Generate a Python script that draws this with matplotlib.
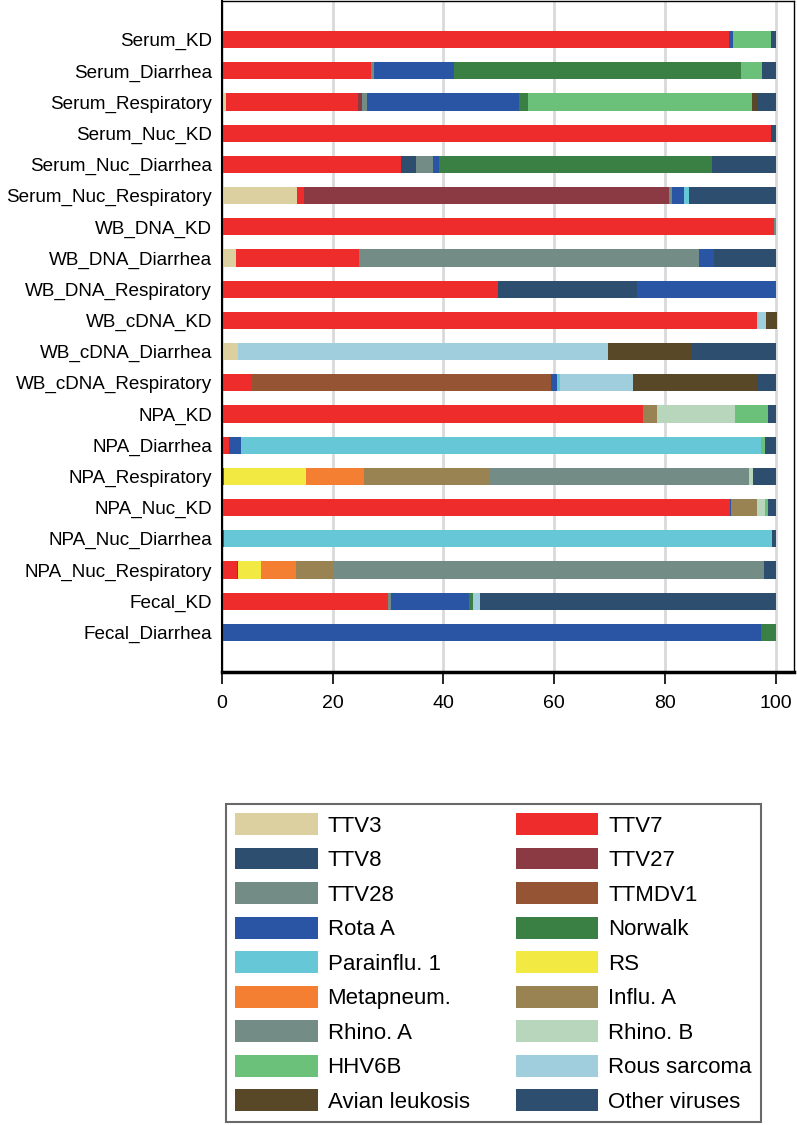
import matplotlib
matplotlib.use('Agg')
import matplotlib.pyplot as plt
import numpy as np

plt.rcParams['font.family'] = ['Liberation Sans', 'DejaVu Sans']

samples = ['Serum_KD', 'Serum_Diarrhea', 'Serum_Respiratory', 'Serum_Nuc_KD',
           'Serum_Nuc_Diarrhea', 'Serum_Nuc_Respiratory', 'WB_DNA_KD',
           'WB_DNA_Diarrhea', 'WB_DNA_Respiratory', 'WB_cDNA_KD',
           'WB_cDNA_Diarrhea', 'WB_cDNA_Respiratory', 'NPA_KD', 'NPA_Diarrhea',
           'NPA_Respiratory', 'NPA_Nuc_KD', 'NPA_Nuc_Diarrhea',
           'NPA_Nuc_Respiratory', 'Fecal_KD', 'Fecal_Diarrhea']

viruses = ['TTV3', 'TTV7', 'TTV8', 'TTV27', 'TTV28', 'TTMDV1', 'Rota A',
           'Norwalk', 'Parainflu. 1', 'RS', 'Metapneum.', 'Influ. A',
           'Rhino. A', 'Rhino. B', 'HHV6B', 'Rous sarcoma', 'Avian leukosis',
           'Other viruses']

colors = ['#DCCFA0', '#EE2C2C', '#2E4E70', '#8B3A44', '#748C86', '#955535',
          '#2A55A5', '#3A8045', '#66C8D6', '#F2EA42', '#F47F32', '#9A8352',
          '#748C86', '#B8D6BC', '#6CC17A', '#A1CEDD', '#584828', '#2E4E70']

# percent of reads, one list per virus, samples in the order above
ttv3 = [0, 0.2, 0.75, 0, 0, 13.5, 0, 2.6, 0, 0, 2.9, 0, 0, 0, 0, 0, 0, 0, 0, 0]
ttv7 = [91.5, 26.8, 23.85, 99.2, 32.3, 1.3, 99.7, 22.2, 49.8, 96.6, 0, 5.5,
        76.1, 1.4, 0, 91.8, 0, 2.7, 30.0, 0]
ttv8 = [0, 0, 0, 0, 2.8, 0, 0, 0, 25.2, 0, 0, 0, 0, 0, 0, 0, 0, 0, 0, 0]
ttv27 = [0, 0, 0.8, 0, 0, 66.0, 0, 0, 0, 0, 0, 0, 0, 0, 0.5, 0, 0, 0, 0, 0]
ttv28 = [0, 0.4, 0.9, 0, 3.1, 0.5, 0.3, 61.3, 0, 0, 0, 0, 0, 0, 0, 0, 0, 0, 0.5, 0]
ttmdv1 = [0, 0, 0, 0, 0, 0, 0, 0, 0, 0, 0, 53.9, 0, 0, 0, 0, 0, 0, 0, 0]
rota_a = [0.8, 14.5, 27.3, 0, 1.0, 2.2, 0, 2.8, 25.0, 0, 0, 1.1, 0, 2.1, 0,
          0.2, 0.5, 0.3, 14.2, 97.3]
norwalk = [0, 51.9, 1.7, 0, 49.3, 0, 0, 0, 0, 0, 0, 0, 0, 0, 0, 0, 0, 0, 0.7, 2.7]
parainflu1 = [0, 0, 0, 0, 0, 0.9, 0, 0, 0, 0, 0, 0.6, 0, 93.8, 0, 0, 98.8, 0, 0, 0]
rs = [0, 0, 0, 0, 0, 0, 0, 0, 0, 0, 0, 0, 0, 0, 14.7, 0, 0, 4.1, 0, 0]
metapneum = [0, 0, 0, 0, 0, 0, 0, 0, 0, 0, 0, 0, 0, 0, 10.5, 0, 0, 6.3, 0, 0]
influ_a = [0, 0, 0, 0, 0, 0, 0, 0, 0, 0, 0, 0, 2.5, 0, 22.7, 4.6, 0, 6.6, 0, 0]
rhino_a = [0, 0, 0, 0, 0, 0, 0, 0, 0, 0, 0, 0, 0, 0, 46.7, 0, 0, 77.8, 0, 0]
rhino_b = [0, 0, 0, 0, 0, 0, 0, 0, 0, 0, 0, 0, 14.1, 0, 0.8, 1.5, 0, 0, 0, 0]
hhv6b = [6.8, 3.8, 40.4, 0, 0, 0, 0, 0, 0, 0, 0, 0, 6.0, 0.8, 0, 0.5, 0, 0, 0, 0]
rous = [0, 0, 0, 0, 0, 0, 0, 0, 0, 1.7, 66.8, 13.1, 0, 0, 0, 0, 0, 0, 1.2, 0]
avian = [0, 0, 0.9, 0, 0, 0, 0, 0, 0, 2.0, 15.1, 22.6, 0, 0.2, 0, 0, 0, 0, 0, 0]
other = [0.9, 2.4, 3.4, 0.8, 11.5, 15.6, 0, 11.1, 0, 0, 15.2, 3.2, 1.3, 1.7,
         4.1, 1.4, 0.7, 2.2, 53.4, 0]

series = [ttv3, ttv7, ttv8, ttv27, ttv28, ttmdv1, rota_a, norwalk, parainflu1,
          rs, metapneum, influ_a, rhino_a, rhino_b, hhv6b, rous, avian, other]

fig = plt.figure(figsize=(7.97, 11.25), dpi=100)
ax = fig.add_axes([0.2782, 0.4027, 0.7180, 0.5964])

y = np.arange(len(samples))
left = np.zeros(len(samples))
handles = []
for name, vals, c in zip(viruses, series, colors):
    vals = np.array(vals, dtype=float)
    h = ax.barh(y, vals, left=left, height=0.55, color=c, label=name,
                linewidth=0, zorder=2)
    handles.append(h)
    left += vals

ax.set_xlim(0, 103.3)
ax.set_ylim(20.27, -1.24)
ax.set_yticks(y)
ax.set_yticklabels(samples, fontsize=13.6)
ax.set_xticks([0, 20, 40, 60, 80, 100])
ax.tick_params(axis='y', length=0, pad=7)
ax.tick_params(axis='x', length=8.5, width=1.2, pad=8, labelsize=14)
ax.xaxis.grid(True, color='#D9D9D9', linewidth=2, zorder=0)
ax.set_axisbelow(True)

for s in ['top', 'right']:
    ax.spines[s].set_linewidth(1.0)
ax.spines['left'].set_linewidth(1.5)
ax.spines['bottom'].set_linewidth(2.5)

# legend is filled row by row in the original, matplotlib fills by column
order = list(range(0, len(viruses), 2)) + list(range(1, len(viruses), 2))
leg = fig.legend([handles[i] for i in order], [viruses[i] for i in order],
                 ncol=2, loc='upper left',
                 bbox_to_anchor=(0.2836, 0.002, 0.6713, 0.2835),
                 mode='expand', fontsize=16, frameon=True, fancybox=False,
                 handlelength=3.7, handleheight=1.13, handletextpad=0.45,
                 labelspacing=0.5, borderpad=0.42, borderaxespad=0)
leg.get_frame().set_edgecolor('#444444')
leg.get_frame().set_linewidth(1.5)

fig.savefig('out.png', dpi=100)
